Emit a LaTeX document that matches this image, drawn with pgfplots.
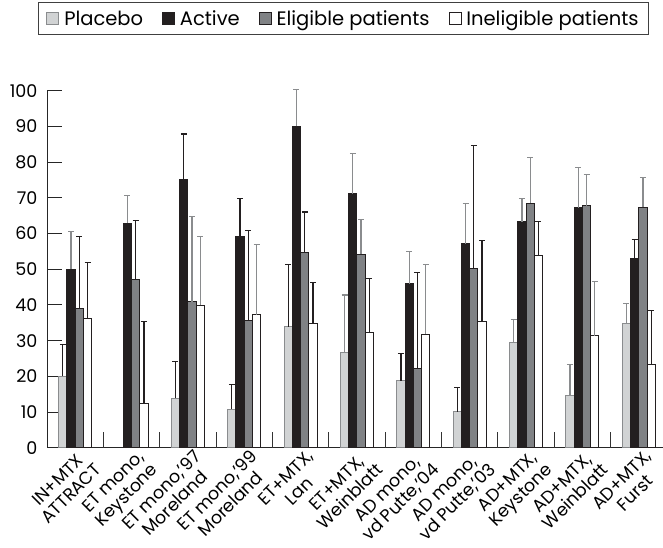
\documentclass[border=0pt]{standalone}
\usepackage{fontspec}
\setmainfont{Poppins}
\usepackage{pgfplots}
\pgfplotsset{compat=1.18}
\definecolor{cPl}{HTML}{D1D3D4}
\definecolor{cPlE}{HTML}{8A8C8E}
\definecolor{cAc}{HTML}{231F20}
\definecolor{cEl}{HTML}{808285}
\definecolor{cDk}{HTML}{231F20}
\definecolor{cGr}{HTML}{8A8C8E}
\pgfplotsset{
  sqlegend/.style={legend image code/.code={\draw[##1,line width=0.8pt] (0pt,-6pt) rectangle (12pt,6pt);}},
  bw/.style={ybar, bar width=0.147, bar shift=#1},
  errk/.style={forget plot, draw=none, mark=none, x filter/.expression={x+#1},
    error bars/.cd, y dir=plus, y explicit,
    error bar style={draw=cDk, line width=1.3pt},
    error mark options={rotate=90, draw=cDk, line width=1.3pt, mark size=3pt}},
  errg/.style={forget plot, draw=none, mark=none, x filter/.expression={x+#1},
    error bars/.cd, y dir=plus, y explicit,
    error bar style={draw=cGr, line width=1.3pt},
    error mark options={rotate=90, draw=cGr, line width=1.3pt, mark size=3pt}},
}
\begin{document}
\begin{tikzpicture}
\useasboundingbox (0,0) rectangle (663pt,547pt);
\begin{axis}[
  at={(47pt,99.3pt)}, anchor=south west,
  scale only axis, width=616pt, height=357pt,
  xmin=-0.5, xmax=10.43, ymin=0, ymax=100,
  clip=false,
  axis lines=left,
  axis line style={-, black!85, line width=1pt},
  tick style={black!85, line width=1pt},
  tick align=inside, major tick length=15pt,
  xtick style={draw=none},
  ytick={0,10,...,100},
  /pgf/number format/assume math mode=true,
  yticklabel style={font=\fontsize{17.5}{20}\selectfont, xshift=-6pt},
  xtick={0,...,10},
  xticklabels={{IN+MTX\\ATTRACT},{ET mono,\\Keystone},{ET mono,'97\\Moreland},{ET mono,'99\\Moreland},{ET+MTX,\\Lan},{ET+MTX,\\Weinblatt},{AD mono,\\vd Putte,'04},{AD mono,\\vd Putte,'03},{AD+MTX,\\Keystone},{AD+MTX,\\Weinblatt},{AD+MTX,\\Furst}},
  xticklabel style={rotate=45, anchor=north east, align=center, font=\fontsize{17.5}{19}\selectfont, inner sep=1pt, yshift=-3pt, xshift=4pt},
  legend columns=4,
  legend style={at={(axis description cs:-0.0146,1.2485)}, anchor=north west,
    draw=black!75, line width=0.9pt, font=\fontsize{19.5}{22}\selectfont,
    inner xsep=8pt, inner ysep=6pt,
    /tikz/every odd column/.append style={column sep=3pt},
    /tikz/every even column/.append style={column sep=17pt}},
]
% separators
\addplot[ycomb, black!80, line width=1pt, no marks, forget plot] coordinates {
 (0.5,4.4) (1.5,4.4) (2.5,4.4) (3.5,4.4) (4.5,4.4) (5.5,4.4) (6.5,4.4) (7.5,4.4) (8.5,4.4) (9.5,4.4)};
% bars
\addplot[bw=-0.2205, fill=cPl, draw=cPlE, line width=1pt, sqlegend] coordinates {
 (0,20) (2,13.8) (3,10.8) (4,33.9) (5,26.7) (6,18.8) (7,10.1) (8,29.4) (9,14.6) (10,34.7)};
\addlegendentry{Placebo}
\addplot[bw=-0.0735, fill=cAc, draw=cAc, line width=1pt, sqlegend] coordinates {
 (0,50) (1,62.9) (2,75) (3,59.1) (4,90) (5,71.1) (6,45.9) (7,57.1) (8,63.3) (9,67.2) (10,52.9)};
\addlegendentry{Active}
\addplot[bw=0.0735, fill=cEl, draw=cDk, line width=1pt, sqlegend] coordinates {
 (0,39) (1,47.2) (2,40.9) (3,35.7) (4,54.8) (5,54.2) (6,22.1) (7,50.2) (8,68.5) (9,67.8) (10,67.3)};
\addlegendentry{Eligible patients}
\addplot[bw=0.2205, fill=white, draw=cDk, line width=1pt, sqlegend] coordinates {
 (0,36.1) (1,12.4) (2,39.9) (3,37.3) (4,34.8) (5,32.2) (6,31.8) (7,35.3) (8,53.9) (9,31.4) (10,23.3)};
\addlegendentry{Ineligible patients}
% error bars: placebo
\addplot[errk=-0.2205] coordinates {(0,20) += (0,9) (2,13.8) += (0,10.3) (3,10.8) += (0,7) (4,33.9) += (0,17.5) (6,18.8) += (0,7.5) (7,10.1) += (0,6.8)};
\addplot[errg=-0.2205] coordinates {(5,26.7) += (0,16.1) (8,29.4) += (0,6.5) (9,14.6) += (0,8.8) (10,34.7) += (0,5.7)};
% active
\addplot[errk=-0.0735] coordinates {(2,75) += (0,12.9) (3,59.1) += (0,10.8) (10,52.9) += (0,5.5)};
\addplot[errg=-0.0735] coordinates {(0,50) += (0,10.6) (1,62.9) += (0,7.7) (4,90) += (0,10.3) (5,71.1) += (0,11.4) (6,45.9) += (0,9) (7,57.1) += (0,11.4) (8,63.3) += (0,6.6) (9,67.2) += (0,11.3)};
% eligible
\addplot[errk=0.0735] coordinates {(0,39) += (0,20.2) (1,47.2) += (0,16.4) (3,35.7) += (0,25.1) (4,54.8) += (0,11.2) (6,22.1) += (0,27) (7,50.2) += (0,34.4)};
\addplot[errg=0.0735] coordinates {(2,40.9) += (0,23.9) (5,54.2) += (0,9.7) (8,68.5) += (0,12.8) (9,67.8) += (0,8.7) (10,67.3) += (0,8.4)};
% ineligible
\addplot[errk=0.2205] coordinates {(0,36.1) += (0,15.7) (1,12.4) += (0,23) (4,34.8) += (0,11.4) (5,32.2) += (0,15.1) (7,35.3) += (0,22.7) (8,53.9) += (0,9.4) (10,23.3) += (0,15.2)};
\addplot[errg=0.2205] coordinates {(2,39.9) += (0,19.3) (3,37.3) += (0,19.7) (6,31.8) += (0,19.6) (9,31.4) += (0,15.1)};
\end{axis}
\end{tikzpicture}
\end{document}
